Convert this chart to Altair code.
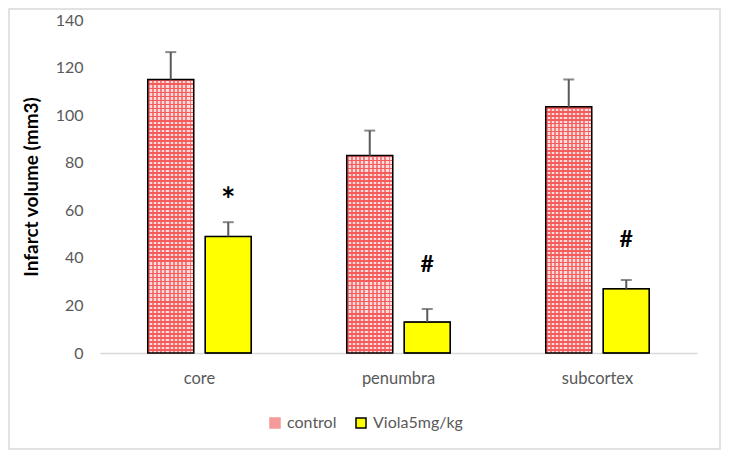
import altair as alt
import pandas as pd

categories = ["core", "penumbra", "subcortex"]
groups = ["control", "Viola5mg/kg"]
control_vals = [115, 83, 103.5]
control_err = [11.5, 10.5, 11.5]
viola_vals = [49, 13, 27]
viola_err = [6, 5.5, 3.7]
ann_text = ["*", "#", "#"]
ann_y = [66, 37, 47.5]
y_ticks = [0, 20, 40, 60, 80, 100, 120, 140]

rows = []
for c, v, e in zip(categories, control_vals, control_err):
    rows.append({"category": c, "group": groups[0], "value": v, "top": v + e})
for c, v, e in zip(categories, viola_vals, viola_err):
    rows.append({"category": c, "group": groups[1], "value": v, "top": v + e})
df = pd.DataFrame(rows)
ann = pd.DataFrame({"category": categories, "group": [groups[1]] * 3,
                    "y": ann_y, "text": ann_text})

W, H = 597, 333
YMAX = 140
FONT = "Lato"
RED = "#f45c5c"
LIGHT = "#fcdcdc"
PINK = "#f59a9a"
PERIOD = 4.0

x_enc = alt.X("category:N", sort=categories,
              scale=alt.Scale(paddingInner=0, paddingOuter=0),
              axis=alt.Axis(title=None, ticks=False, labelAngle=0, labelFontSize=16.5,
                            labelColor="#595959", labelFont=FONT, labelPadding=17,
                            domainColor="#d9d9d9", domainWidth=1.5))
xo_enc = alt.XOffset("group:N", sort=groups,
                     scale=alt.Scale(domain=groups, paddingInner=0.2, paddingOuter=0.83))
y_enc = alt.Y("value:Q", scale=alt.Scale(domain=[0, YMAX], nice=False),
              axis=alt.Axis(title="Infarct volume (mm3)", values=y_ticks, grid=False,
                            ticks=False, domain=False, labelFontSize=16,
                            labelColor="#595959", labelFont=FONT, labelPadding=17,
                            titleFontSize=19, titleFont=FONT, titleFontWeight="bold",
                            titleColor="black", titlePadding=14))

leg = alt.Legend(title=None, orient="none", legendX=167, legendY=395,
                 direction="horizontal", symbolType="square", symbolSize=100,
                 labelFontSize=16, labelColor="#595959", labelFont=FONT,
                 columnPadding=16, symbolStrokeWidth=1.5, labelOffset=4)

base = alt.Chart(df)

legend_layer = base.mark_bar().encode(
    x=x_enc, xOffset=xo_enc, y=y_enc,
    fill=alt.Fill("group:N", sort=groups,
                  scale=alt.Scale(domain=groups, range=[PINK, "#ffff00"]), legend=leg),
    stroke=alt.Stroke("group:N", sort=groups,
                      scale=alt.Scale(domain=groups, range=[PINK, "black"]), legend=leg),
)


def stripes(n, c1, c2, vertical, f=0.45):
    stops = []
    for i in range(n):
        a = i / n
        b = (i + f) / n
        d = (i + 1) / n
        stops += [{"offset": a, "color": c1}, {"offset": b, "color": c1},
                  {"offset": b, "color": c2}, {"offset": d, "color": c2}]
    g = {"gradient": "linear", "stops": stops}
    if vertical:
        g.update({"x1": 0, "y1": 0, "x2": 0, "y2": 1})
    else:
        g.update({"x1": 0, "y1": 0, "x2": 1, "y2": 0})
    return g


pattern_layers = []
for c, v in zip(categories, control_vals):
    hpx = v / YMAX * H
    n = max(1, round(hpx / PERIOD))
    pattern_layers.append(
        base.transform_filter(
            (alt.datum.category == c) & (alt.datum.group == groups[0])
        ).mark_bar(fill=stripes(n, RED, LIGHT, True), strokeWidth=0).encode(
            x=x_enc, xOffset=xo_enc, y=y_enc)
    )
pattern_layers.append(
    base.transform_filter(alt.datum.group == groups[0]).mark_bar(
        fill=stripes(11, RED, "rgba(255,255,255,0)", False), strokeWidth=0,
        opacity=0.75
    ).encode(x=x_enc, xOffset=xo_enc, y=y_enc)
)

outline = base.mark_bar(fillOpacity=0, stroke="black", strokeWidth=1.5).encode(
    x=x_enc, xOffset=xo_enc, y=y_enc)

err_rule = base.mark_rule(color="#595959", strokeWidth=2).encode(
    x=x_enc, xOffset=xo_enc, y=alt.Y("value:Q"), y2="top:Q")
err_cap = base.mark_tick(color="#595959", thickness=2, size=11).encode(
    x=x_enc, xOffset=xo_enc, y=alt.Y("top:Q"))

ann_base = alt.Chart(ann).encode(x=x_enc, xOffset=xo_enc, y=alt.Y("y:Q"), text="text:N")
star_layer = ann_base.transform_filter(alt.datum.text == "*").mark_text(
    font=FONT, fontWeight="bold", fontSize=34, color="black", baseline="middle", dy=6)
hash_layer = ann_base.transform_filter(alt.datum.text == "#").mark_text(
    font=FONT, fontWeight="bold", fontSize=23, color="black", baseline="middle")

border = alt.Chart(pd.DataFrame({"a": [0]})).mark_rect(
    fill=None, stroke="#d9d9d9", strokeWidth=1.5).encode(
    x=alt.value(-91), x2=alt.value(620), y=alt.value(-11), y2=alt.value(429))

chart = alt.layer(border, legend_layer, *pattern_layers, outline, err_rule, err_cap,
                  star_layer, hash_layer).properties(
    width=W, height=H,
    autosize=alt.AutoSizeParams(type="none"),
    padding={"left": 92, "top": 12, "right": 24, "bottom": 97},
).configure_view(stroke=None)

chart.save("out.html", embed_options={"renderer": "svg", "actions": False})
